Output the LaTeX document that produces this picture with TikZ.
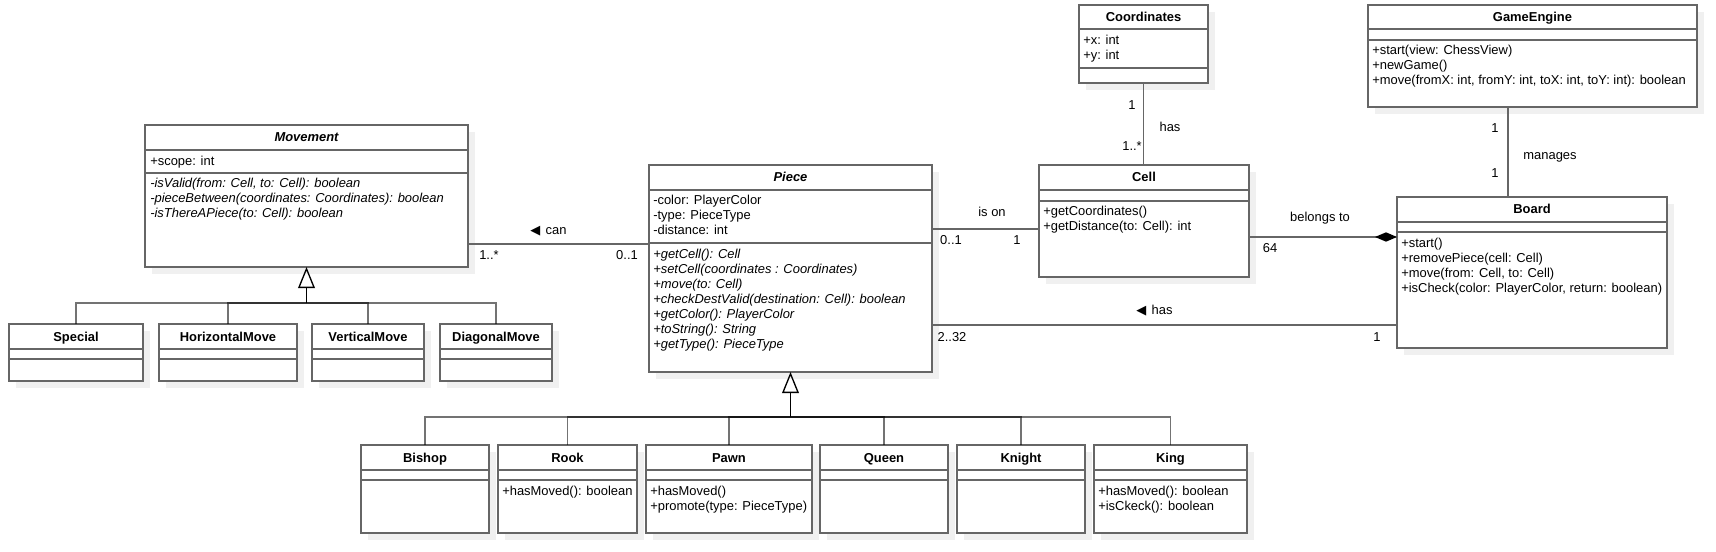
\documentclass[tikz,border=0pt]{standalone}
\usepackage{fontspec}
\setmainfont{Liberation Sans}
\newfontfamily\arrowfont{DejaVu Sans}
\usetikzlibrary{arrows.meta,fit,shadows}
\newcommand{\umlfont}{\fontsize{9.7}{11.25}\selectfont}
\tikzset{
    every node/.style={font=\umlfont},
    umlbox/.style={draw=black!60, line width=1pt, fill=white, inner sep=0pt, outer sep=0pt,
        drop shadow={shadow xshift=5.25pt, shadow yshift=-5.25pt, fill=black!6, opacity=1}},
    umlsep/.style={draw=black!60, line width=1pt},
    clsname/.style={font=\umlfont\bfseries, anchor=base, inner sep=0pt},
    members/.style={anchor=north west, align=left, inner sep=0pt},
    itmembers/.style={members, font=\umlfont\itshape},
    lbl/.style={anchor=base, inner sep=0pt},
    assoc/.style={draw=black!60, line width=1pt},
    subline/.style={draw=black, draw opacity=0.55, line width=1pt},
    gen/.style={draw=black, line width=1pt, -{Triangle[open, width=12.5pt, length=15.75pt]}},
    comp/.style={draw=black!60, line width=1pt, -{Diamond[length=16.5pt, width=7pt, color=black]}}
}

\begin{document}
\begin{tikzpicture}[x=0.75pt, y=-0.75pt]
\fill[white] (0,0) rectangle (1716,552);
\useasboundingbox (0,0) rectangle (1716,552);

% Movement
\node[umlbox, fit={(145,125) (468,267)}] (movement) {};
\draw[umlsep] (movement.west |- 0,150) -- (movement.east |- 0,150);
\draw[umlsep] (movement.west |- 0,173) -- (movement.east |- 0,173);
\node[clsname] (movement-name) at (306.5,142) {\itshape Movement};
\node[members] (movement-attr) at (150,156) {+scope: int};
\node[itmembers] (movement-ops) at (150,178) {-isValid(from: Cell, to: Cell): boolean\\-pieceBetween(coordinates: Coordinates): boolean\\-isThereAPiece(to: Cell): boolean};

% Piece
\node[umlbox, fit={(649,165) (932,372)}] (piece) {};
\draw[umlsep] (piece.west |- 0,190) -- (piece.east |- 0,190);
\draw[umlsep] (piece.west |- 0,243) -- (piece.east |- 0,243);
\node[clsname] (piece-name) at (790.5,182) {\itshape Piece};
\node[members] (piece-attr) at (653,195) {-color: PlayerColor\\-type: PieceType\\-distance: int};
\node[itmembers] (piece-ops) at (653,249) {+getCell(): Cell\\+setCell(coordinates : Coordinates)\\+move(to: Cell)\\+checkDestValid(destination: Cell): boolean\\+getColor(): PlayerColor\\+toString(): String\\+getType(): PieceType};

% Coordinates
\node[umlbox, fit={(1079,5) (1208,83)}] (coordinates) {};
\draw[umlsep] (coordinates.west |- 0,29) -- (coordinates.east |- 0,29);
\draw[umlsep] (coordinates.west |- 0,68) -- (coordinates.east |- 0,68);
\node[clsname] (coordinates-name) at (1143.5,21.5) {Coordinates};
\node[members] (coordinates-attr) at (1083,35) {+x: int\\+y: int};

% Cell
\node[umlbox, fit={(1039,165) (1249,277)}] (cell) {};
\draw[umlsep] (cell.west |- 0,190) -- (cell.east |- 0,190);
\draw[umlsep] (cell.west |- 0,201) -- (cell.east |- 0,201);
\node[clsname] (cell-name) at (1144,182) {Cell};
\node[members] (cell-ops) at (1043,206) {+getCoordinates()\\+getDistance(to: Cell): int};

% GameEngine
\node[umlbox, fit={(1368,5) (1697,107)}] (gameengine) {};
\draw[umlsep] (gameengine.west |- 0,29) -- (gameengine.east |- 0,29);
\draw[umlsep] (gameengine.west |- 0,40) -- (gameengine.east |- 0,40);
\node[clsname] (gameengine-name) at (1532.5,21.5) {GameEngine};
\node[members] (gameengine-ops) at (1372,45) {+start(view: ChessView)\\+newGame()\\+move(fromX: int, fromY: int, toX: int, toY: int): boolean};

% Board
\node[umlbox, fit={(1397,197) (1667,348)}] (board) {};
\draw[umlsep] (board.west |- 0,222) -- (board.east |- 0,222);
\draw[umlsep] (board.west |- 0,232) -- (board.east |- 0,232);
\node[clsname] (board-name) at (1532,214) {Board};
\node[members] (board-ops) at (1401,238) {+start()\\+removePiece(cell: Cell)\\+move(from: Cell, to: Cell)\\+isCheck(color: PlayerColor, return: boolean)};

% kinds of movement
\node[umlbox, fit={(9,324) (143,381)}] (special) {};
\node[umlbox, fit={(159,324) (297,381)}] (horizontal) {};
\node[umlbox, fit={(312,324) (424,381)}] (vertical) {};
\node[umlbox, fit={(440,324) (552,381)}] (diagonal) {};
\draw[umlsep] (special.west |- 0,349) -- (special.east |- 0,349);
\draw[umlsep] (special.west |- 0,359) -- (special.east |- 0,359);
\draw[umlsep] (horizontal.west |- 0,349) -- (horizontal.east |- 0,349);
\draw[umlsep] (horizontal.west |- 0,359) -- (horizontal.east |- 0,359);
\draw[umlsep] (vertical.west |- 0,349) -- (vertical.east |- 0,349);
\draw[umlsep] (vertical.west |- 0,359) -- (vertical.east |- 0,359);
\draw[umlsep] (diagonal.west |- 0,349) -- (diagonal.east |- 0,349);
\draw[umlsep] (diagonal.west |- 0,359) -- (diagonal.east |- 0,359);
\node[clsname] (special-name) at (76,341) {Special};
\node[clsname] (horizontal-name) at (228,341) {HorizontalMove};
\node[clsname] (vertical-name) at (368,341) {VerticalMove};
\node[clsname] (diagonal-name) at (496,341) {DiagonalMove};

% pieces
\node[umlbox, fit={(361,445) (489,533)}] (bishop) {};
\node[umlbox, fit={(498,445) (637,533)}] (rook) {};
\node[umlbox, fit={(646,445) (812,533)}] (pawn) {};
\node[umlbox, fit={(820,445) (948,533)}] (queen) {};
\node[umlbox, fit={(957,445) (1085,533)}] (knight) {};
\node[umlbox, fit={(1094,445) (1247,533)}] (king) {};
\draw[umlsep] (bishop.west |- 0,470) -- (bishop.east |- 0,470);
\draw[umlsep] (bishop.west |- 0,480) -- (bishop.east |- 0,480);
\draw[umlsep] (rook.west |- 0,470) -- (rook.east |- 0,470);
\draw[umlsep] (rook.west |- 0,480) -- (rook.east |- 0,480);
\draw[umlsep] (pawn.west |- 0,470) -- (pawn.east |- 0,470);
\draw[umlsep] (pawn.west |- 0,480) -- (pawn.east |- 0,480);
\draw[umlsep] (queen.west |- 0,470) -- (queen.east |- 0,470);
\draw[umlsep] (queen.west |- 0,480) -- (queen.east |- 0,480);
\draw[umlsep] (knight.west |- 0,470) -- (knight.east |- 0,470);
\draw[umlsep] (knight.west |- 0,480) -- (knight.east |- 0,480);
\draw[umlsep] (king.west |- 0,470) -- (king.east |- 0,470);
\draw[umlsep] (king.west |- 0,480) -- (king.east |- 0,480);
\node[clsname] (bishop-name) at (425,462) {Bishop};
\node[clsname] (rook-name) at (567.5,462) {Rook};
\node[clsname] (pawn-name) at (729,462) {Pawn};
\node[clsname] (queen-name) at (884,462) {Queen};
\node[clsname] (knight-name) at (1021,462) {Knight};
\node[clsname] (king-name) at (1170.5,462) {King};
\node[members] (rook-ops) at (502,486) {+hasMoved(): boolean};
\node[members] (pawn-ops) at (650,486) {+hasMoved()\\+promote(type: PieceType)};
\node[members] (king-ops) at (1098,486) {+hasMoved(): boolean\\+isCkeck(): boolean};

% generalisations
\coordinate (movement-join) at (movement.south |- 0,303);
\draw[subline] (special.north) |- (movement-join);
\draw[subline] (horizontal.north) |- (movement-join);
\draw[subline] (vertical.north) |- (movement-join);
\draw[subline] (diagonal.north) |- (movement-join);
\draw[gen] (movement-join) -- (movement.south);

\coordinate (piece-join) at (piece.south |- 0,417);
\draw[subline] (bishop.north) |- (piece-join);
\draw[subline] (rook.north) |- (piece-join);
\draw[subline] (pawn.north) |- (piece-join);
\draw[subline] (queen.north) |- (piece-join);
\draw[subline] (knight.north) |- (piece-join);
\draw[subline] (king.north) |- (piece-join);
\draw[gen] (piece-join) -- (piece.south);

% associations
\coordinate (can) at (560,244);
\draw[assoc] (can -| movement.east) -- (can -| piece.west);
\node[lbl] (can-label) at (548.5,234.5) {{\arrowfont ◀}\hspace{4pt}can};
\node[lbl] (can-from) at (489,259.5) {1..*};
\node[lbl] (can-to) at (627,259.5) {0..1};

\coordinate (ison) at (990,229);
\draw[assoc] (ison -| piece.east) -- (ison -| cell.west);
\node[lbl] (ison-label) at (992,216.5) {is on};
\node[lbl] (ison-from) at (951,244.5) {0..1};
\node[lbl] (ison-to) at (1017,244.5) {1};

\draw[assoc] (coordinates.south) -- (coordinates.south |- cell.north);
\node[lbl] (hascoord-label) at (1170,131.5) {has};
\node[lbl] (hascoord-from) at (1132,109.5) {1};
\node[lbl] (hascoord-to) at (1132,150.5) {1..*};

\coordinate (manages) at (1508,150);
\draw[assoc] (manages |- gameengine.south) -- (manages |- board.north);
\node[lbl] (manages-label) at (1550,159.5) {manages};
\node[lbl] (manages-from) at (1495,132.5) {1};
\node[lbl] (manages-to) at (1495,177.5) {1};

\coordinate (belongs) at (1320,237);
\draw[comp] (belongs -| cell.east) -- (belongs -| board.west);
\node[lbl] (belongs-label) at (1320,221.5) {belongs to};
\node[lbl] (belongs-from) at (1270,252.5) {64};

\coordinate (hasboard) at (1160,325);
\draw[assoc] (hasboard -| piece.east) -- (hasboard -| board.west);
\node[lbl] (hasboard-label) at (1154.5,314.5) {{\arrowfont ◀}\hspace{4pt}has};
\node[lbl] (hasboard-from) at (952,341.5) {2..32};
\node[lbl] (hasboard-to) at (1377,341.5) {1};

\end{tikzpicture}
\end{document}
